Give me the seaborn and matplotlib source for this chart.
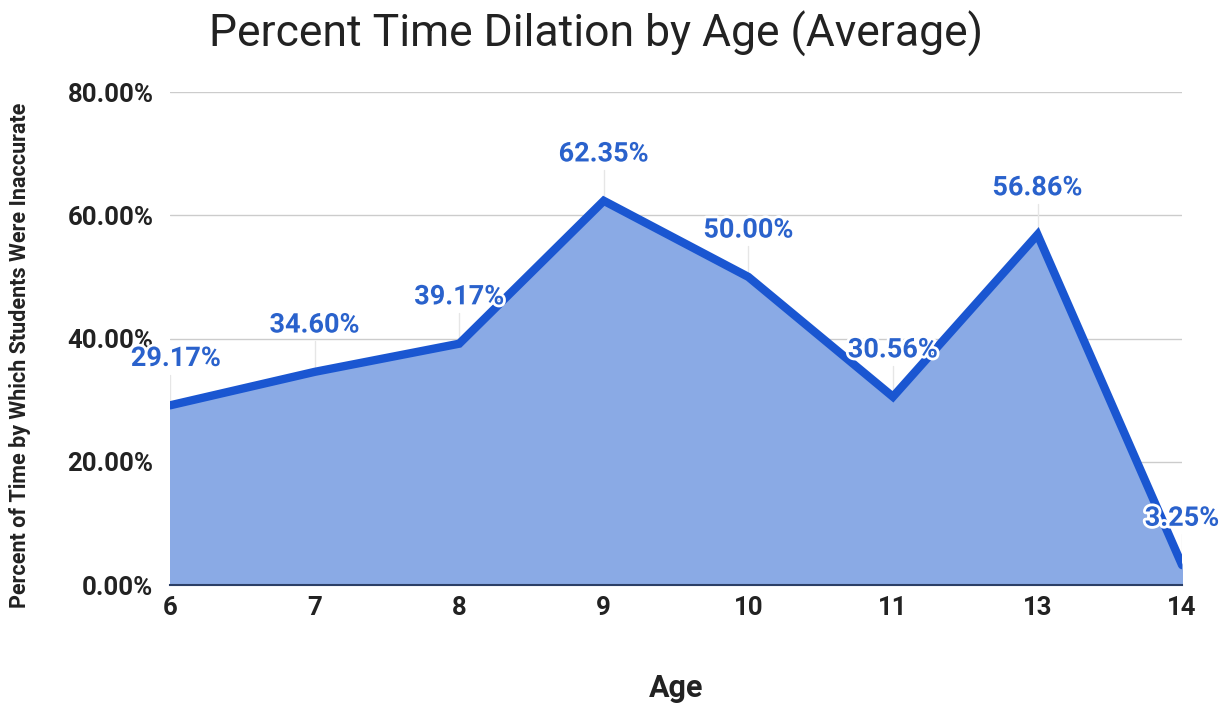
import numpy as np
import pandas as pd
import matplotlib.pyplot as plt
import matplotlib.patheffects as pe
import seaborn as sns

# data
ages = ["6", "7", "8", "9", "10", "11", "13", "14"]
pct = [29.17, 34.60, 39.17, 62.35, 50.00, 30.56, 56.86, 3.25]
y_ticks = [0, 20, 40, 60, 80]

df = pd.DataFrame({"age": ages, "pct": pct})
df["pos"] = np.arange(len(ages))

sns.set_style("white")
plt.rcParams["font.family"] = ["Roboto", "DejaVu Sans"]

line_col = "#1a56d1"
fill_col = "#8aaae5"
lab_col = "#2a62cc"

fig = plt.figure(figsize=(12.26, 7.05), dpi=100)
ax = fig.add_axes([0.1387, 0.170, 0.8255, 0.6995])

ax.fill_between(df["pos"], 0, df["pct"], color=fill_col, zorder=1)
sns.lineplot(data=df, x="pos", y="pct", color=line_col, linewidth=6,
             ax=ax, zorder=3, solid_joinstyle="miter")

# data labels with leader ticks
for p, v in zip(df["pos"], df["pct"]):
    ax.plot([p, p], [v, v + 5.0], color="#e6e6e6", lw=1, zorder=2)
    t = ax.text(p + (0.04 if p == 0 else 0), v + 7.6, f"{v:.2f}%", ha="center", va="center",
                fontsize=19.5, fontweight="bold", color=lab_col, zorder=5)
    t.set_path_effects([pe.withStroke(linewidth=4, foreground="white")])

ax.set_xlim(0, len(ages) - 1)
ax.set_ylim(0, 80)
ax.set_xticks(df["pos"])
ax.set_xticklabels(ages)
ax.set_yticks(y_ticks)
ax.set_yticklabels([f"{t:.2f}%" for t in y_ticks])
ax.tick_params(axis="both", labelsize=18.5, length=0, colors="#222222")
ax.tick_params(axis="y", pad=12)
ax.tick_params(axis="x", pad=8)
for lab in ax.get_xticklabels() + ax.get_yticklabels():
    lab.set_fontweight("bold")

ax.grid(axis="y", color="#cccccc", lw=1)
ax.set_axisbelow(True)
for s in ["top", "right", "left"]:
    ax.spines[s].set_visible(False)
ax.spines["bottom"].set_color("#2b3f66")
ax.spines["bottom"].set_linewidth(1.5)
ax.spines["bottom"].set_zorder(4)

ax.set_xlabel("Age", fontsize=22, fontweight="bold", labelpad=38, color="#222222")
ax.set_ylabel("Percent of Time by Which Students Were Inaccurate", fontsize=15.5,
              fontweight="bold", color="#222222")
ax.yaxis.set_label_coords(-0.137, 0.467)

fig.text(596 / 1226, 1 - 34 / 705, "Percent Time Dilation by Age (Average)",
         ha="center", va="center", fontsize=32, color="#222222")

fig.savefig("out.png", dpi=100)
